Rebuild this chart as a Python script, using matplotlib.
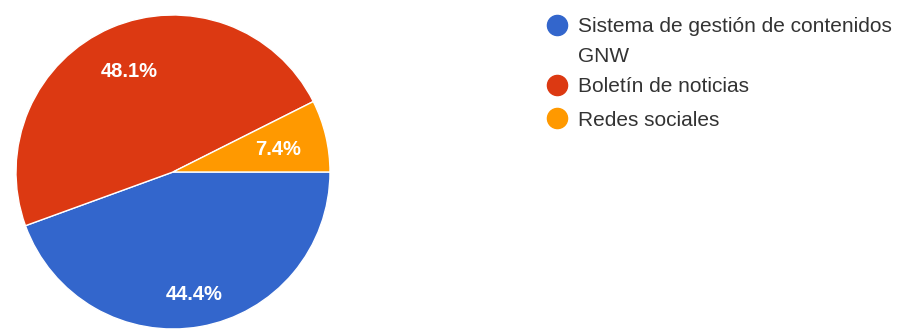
import matplotlib
matplotlib.use("Agg")
import matplotlib.pyplot as plt
import numpy as np
from matplotlib.lines import Line2D

plt.rcParams['font.family'] = ['Liberation Sans', 'DejaVu Sans']

# survey answers (27 responses)
labels = ['Sistema de gestión de contenidos\nGNW', 'Boletín de noticias', 'Redes sociales']
counts = [12, 13, 2]
colors = ['#3366cc', '#dc3912', '#ff9900']
label_radius = [0.78, 0.71, 0.69]

W, H = 911, 329
fig = plt.figure(figsize=(W / 100, H / 100), dpi=100)

# pie axes: centre (173, 172) px, radius 157 px
cx, cy, r = 173, 172, 157
ax = fig.add_axes([(cx - r) / W, (H - cy - r) / H, 2 * r / W, 2 * r / H])
wedges, _ = ax.pie(counts, colors=colors, startangle=0, counterclock=False,
                   radius=1, wedgeprops=dict(edgecolor='white', linewidth=1))
ax.set_xlim(-1, 1)
ax.set_ylim(-1, 1)
ax.set_aspect('equal')
ax.axis('off')

total = sum(counts)
for w, c, d in zip(wedges, counts, label_radius):
    mid = np.deg2rad((w.theta1 + w.theta2) / 2)
    ax.text(d * np.cos(mid), d * np.sin(mid), f'{100 * c / total:.1f}%',
            ha='center', va='center_baseline', color='white', fontsize=14.5,
            fontweight='bold')

# legend, drawn by hand so the wrapped first entry keeps its spacing
row_y = [25, 85, 118]   # centre of each entry's first line, px from top
line_gap = 29
for lab, col, y in zip(labels, colors, row_y):
    fy = 1 - y / H
    fig.add_artist(Line2D([557 / W], [fy], marker='o', markersize=14.5, linestyle='none',
                          markerfacecolor=col, markeredgecolor=col,
                          transform=fig.transFigure))
    for i, part in enumerate(lab.split('\n')):
        fig.text(578 / W, 1 - (y + i * line_gap) / H, part, ha='left', va='center_baseline',
                 fontsize=15, color='#333333')

fig.savefig('out.png', dpi=100)
